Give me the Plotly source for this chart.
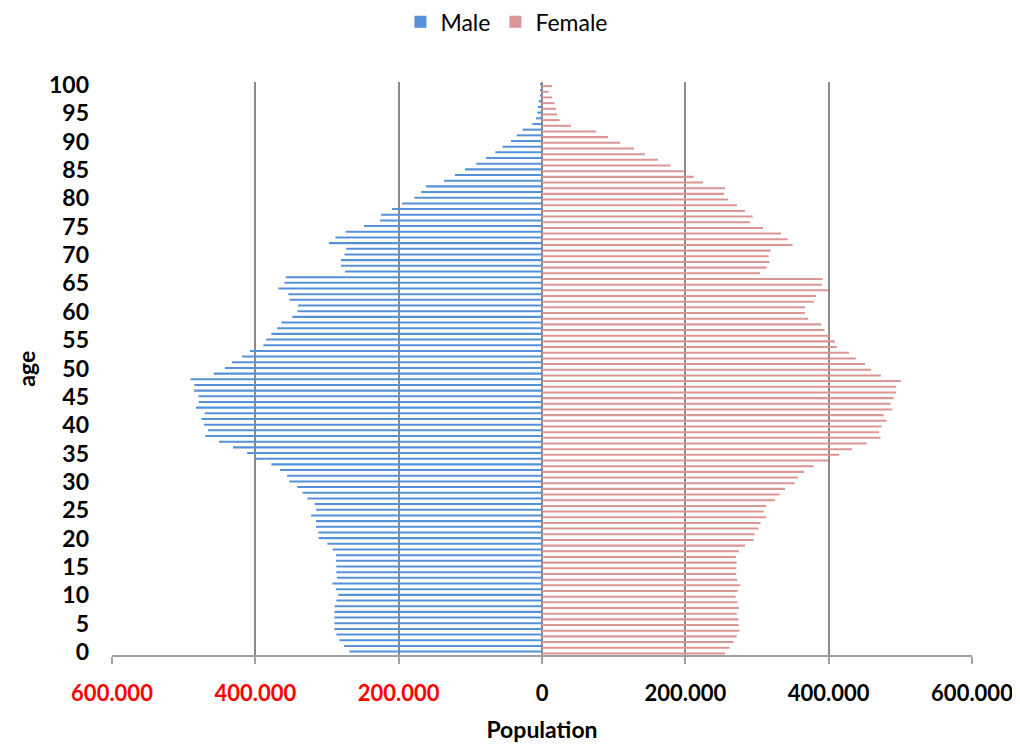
import plotly.graph_objects as go

ages = list(range(0, 101))

male = [268800, 276200, 282700, 286900, 289700, 289700, 289700, 289700, 289200, 286900,
        284100, 287400, 292500, 286000, 286900, 286900, 287400, 287400, 292000, 299500,
        311600, 312000, 315300, 315300, 322200, 315300, 317100, 327400, 334300, 341300,
        352500, 355700, 365500, 377600, 400400, 411500, 431100, 450600, 469700, 465900,
        471500, 475200, 470600, 482700, 479000, 479400, 485500, 485000, 490600, 458000,
        442200, 432500, 418500, 407800, 388700, 385000, 377600, 369700, 363600, 348300,
        341300, 340400, 352500, 353900, 367800, 359400, 357600, 274800, 280400, 280400,
        275700, 273400, 297100, 288300, 273900, 248300, 226000, 224600, 209300, 195300,
        178100, 168800, 161800, 136700, 121400, 107400, 91600, 78100, 65100, 54900,
        43200, 35300, 27000, 13500, 8400, 6500, 5600, 4600, 2800, 1500,
        2000]

female = [255300, 261800, 267300, 271600, 275700, 274400, 273900, 271600, 274800, 272500,
          270200, 273000, 276700, 272500, 271100, 271100, 271600, 270600, 274800, 283200,
          295300, 296700, 302300, 305000, 312500, 309200, 312500, 325000, 331500, 339000,
          352500, 357100, 365500, 379000, 399000, 414800, 432500, 452900, 472400, 470100,
          473800, 480800, 476600, 489200, 486400, 490600, 494300, 494300, 500800, 472900,
          459000, 450600, 438000, 428300, 411500, 408700, 400800, 394300, 389700, 371100,
          366900, 366900, 379400, 382200, 399000, 390600, 391500, 304100, 313400, 317600,
          316200, 319000, 349700, 342700, 333400, 308300, 290200, 293900, 283200, 272000,
          259500, 253900, 255300, 224600, 211600, 197600, 179500, 161800, 143700, 128300,
          109300, 92100, 75300, 40500, 24600, 20900, 19500, 17700, 14000, 9300,
          14000]

x_ticks = [-600000, -400000, -200000, 0, 200000, 400000, 600000]
x_labels = ["600.000", "400.000", "200.000", "0", "200.000", "400.000", "600.000"]
y_ticks = list(range(0, 101, 5))

FONT = "Lato"

fig = go.Figure()

fig.add_trace(go.Bar(
    y=ages, x=[-v for v in male], orientation="h", name="Male",
    marker=dict(color="#5590D8", line=dict(width=0)),
    width=0.36, offset=-0.08,
))
fig.add_trace(go.Bar(
    y=ages, x=female, orientation="h", name="Female",
    marker=dict(color="#DA9694", line=dict(width=0)),
    width=0.36, offset=-0.4,
))

# red labels for the male (negative) side
ticktext = []
for v, lab in zip(x_ticks, x_labels):
    if v < 0:
        ticktext.append(f"<span style='color:#FF0000'>{lab}</span>")
    else:
        ticktext.append(lab)

# "age" title as an annotation so it stays put on the left
fig.add_annotation(
    text="<b>age</b>", xref="paper", yref="paper", x=-0.101, y=0.5,
    xanchor="center", yanchor="middle", textangle=-90, showarrow=False,
    font=dict(family=FONT, size=23, color="black"),
)

# page body has an 8px margin, so the figure is a bit smaller than the window
fig.update_layout(
    width=1012, height=737,
    barmode="overlay",
    plot_bgcolor="white", paper_bgcolor="white",
    margin=dict(l=104, r=48, t=74, b=90, autoexpand=False),
    font=dict(family=FONT, color="black"),
    legend=dict(
        orientation="h", xref="container", yref="paper",
        x=0.493, xanchor="center", y=1.105, yanchor="middle",
        font=dict(family=FONT, size=23, color="black"),
        itemsizing="constant",
    ),
    xaxis=dict(
        range=[-600000, 600000], automargin=False,
        tickvals=x_ticks, ticktext=ticktext,
        tickfont=dict(family=FONT, size=22, color="black", weight="bold"),
        showgrid=True, gridcolor="#8A8A8A", gridwidth=2,
        zeroline=False,
        showline=True, linecolor="#A0A0A0", linewidth=2,
        ticks="outside", ticklen=7, tickcolor="#A0A0A0", tickwidth=2,
        ticklabelstandoff=11,
        title=dict(text="<b>Population</b>", font=dict(family=FONT, size=23), standoff=16),
    ),
    yaxis=dict(
        range=[-0.5, 100.5], automargin=False,
        tickvals=y_ticks,
        tickfont=dict(family=FONT, size=23, color="black", weight="bold"),
        showgrid=False, zeroline=False, showline=False,
        ticks="", ticklabelstandoff=22,
    ),
    yaxis2=dict(
        range=[-0.5, 100.5], overlaying="y", anchor="free", position=0.5,
        tickmode="linear", tick0=-0.5, dtick=1,
        ticks="outside", ticklen=8, tickwidth=2, tickcolor="#8C8C8C",
        showticklabels=False, showgrid=False, zeroline=False,
        showline=True, linecolor="#8C8C8C", linewidth=2,
    ),
)

fig.write_html("out.html")
